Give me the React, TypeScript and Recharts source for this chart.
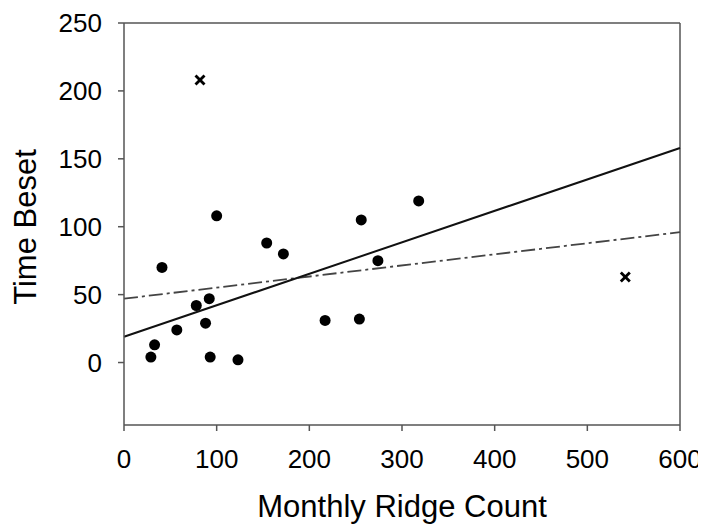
import React from 'react';
import {
  ScatterChart, Scatter, XAxis, YAxis, ReferenceLine, Label,
} from 'recharts';

// monthly ridge counts vs. time beset (main sample)
const ridgeCount = [29, 33, 41, 57, 78, 92, 88, 93, 100, 123, 154, 172, 217, 254, 256, 274, 318];
const timeBeset = [4, 13, 70, 24, 42, 47, 29, 4, 108, 2, 88, 80, 31, 32, 105, 75, 119];

// excluded points, drawn as crosses
const outlierCount = [82, 541];
const outlierTime = [208, 63];

// fitted lines, end points at x = 0 and x = 600
const fitX = [0, 600];
const fitWithout = [19, 158];
const fitWith = [47, 96];

const xTicks = [0, 100, 200, 300, 400, 500, 600];
const yTicks = [0, 50, 100, 150, 200, 250];

const points = ridgeCount.map((x, i) => ({ x, y: timeBeset[i] }));
const outliers = outlierCount.map((x, i) => ({ x, y: outlierTime[i] }));

const FONT = '"Liberation Sans", Arial, sans-serif';
const AXIS = '#555';

const Dot = (props: any) => <circle cx={props.cx} cy={props.cy} r={5.5} fill="#000" />;

const Cross = (props: any) => {
  const { cx, cy } = props;
  const s = 4.5;
  return (
    <g stroke="#000" strokeWidth={2.8}>
      <line x1={cx - s} y1={cy - s} x2={cx + s} y2={cy + s} />
      <line x1={cx - s} y1={cy + s} x2={cx + s} y2={cy - s} />
    </g>
  );
};

// rotated y title, centred a little below the middle of the plot
const YTitle = (props: any) => {
  const { viewBox } = props;
  const x = 17;
  const y = viewBox.y + viewBox.height / 2 + 3;
  return (
    <text
      x={x}
      y={y}
      transform={`rotate(-90, ${x}, ${y})`}
      textAnchor="middle"
      dy="0.355em"
      fill="#000"
      fontSize={31}
      fontFamily={FONT}
    >
      Time Beset
    </text>
  );
};

const tickStyle = { fill: '#000', fontSize: 26, fontFamily: FONT };

export default function App() {
  return (
    <ScatterChart width={698} height={516} margin={{ top: 15, right: 26, bottom: 0, left: 0 }}>
      <XAxis
        type="number"
        dataKey="x"
        domain={[0, 600]}
        ticks={xTicks}
        height={99}
        tick={tickStyle}
        tickSize={6}
        tickMargin={19}
        stroke={AXIS}
        strokeWidth={1.5}
      >
        <Label
          value="Monthly Ridge Count"
          position="insideBottom"
          offset={7}
          style={{ fill: '#000', fontSize: 31, fontFamily: FONT }}
        />
      </XAxis>
      <YAxis
        type="number"
        dataKey="y"
        domain={[-46, 250]}
        ticks={yTicks}
        width={116}
        tick={tickStyle}
        tickSize={6}
        tickMargin={16}
        stroke={AXIS}
        strokeWidth={1.5}
        allowDataOverflow
      >
        <Label content={YTitle} />
      </YAxis>
      <ReferenceLine y={250} stroke={AXIS} strokeWidth={1.5} />
      <ReferenceLine x={600} stroke={AXIS} strokeWidth={1.5} />
      <ReferenceLine
        segment={[{ x: fitX[0], y: fitWith[0] }, { x: fitX[1], y: fitWith[1] }]}
        stroke="#444"
        strokeWidth={1.8}
        strokeDasharray="14 4 3 4"
      />
      <ReferenceLine
        segment={[{ x: fitX[0], y: fitWithout[0] }, { x: fitX[1], y: fitWithout[1] }]}
        stroke="#111"
        strokeWidth={2}
      />
      <Scatter data={points} shape={Dot} isAnimationActive={false} />
      <Scatter data={outliers} shape={Cross} isAnimationActive={false} />
    </ScatterChart>
  );
}
